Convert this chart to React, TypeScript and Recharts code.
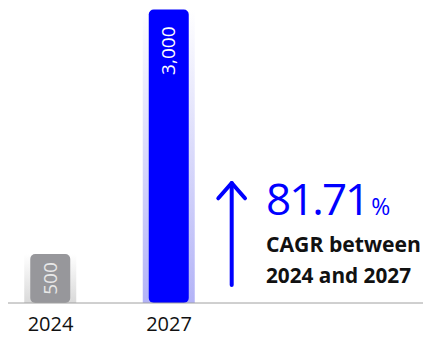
import { BarChart, Bar, XAxis, YAxis, Cell, LabelList } from "recharts";

const years = ["2024", "2027"];
const values = [500, 3000];
const barColors = ["#97979b", "#0000ff"];
const glowColors = ["#d9d9d9", "#b3b3f7"];
const labelColors = ["#e8e8e8", "#ffffff"];

const data = years.map((year, i) => ({ year, value: values[i] }));

// compound annual growth between first and last year
const span = Number(years[years.length - 1]) - Number(years[0]);
const cagr = (Math.pow(values[values.length - 1] / values[0], 1 / span) - 1) * 100;

const FONT = "'Open Sans', 'Noto Sans', sans-serif";

const GlowBar = (props: any) => {
  const { x, y, width, height, fill, index } = props;
  const id = `glow-${index}`;
  return (
    <g>
      <defs>
        <linearGradient id={id} x1="0" y1="0" x2="0" y2="1">
          <stop offset="0%" stopColor={glowColors[index]} stopOpacity={0} />
          <stop offset="100%" stopColor={glowColors[index]} stopOpacity={1} />
        </linearGradient>
      </defs>
      <rect x={x - 6} y={y} width={width + 12} height={height} fill={`url(#${id})`} />
      <rect x={x} y={y} width={width} height={height} rx={5} ry={5} fill={fill} />
    </g>
  );
};

const BarLabel = (props: any) => {
  const { x, y, width, height, value, index } = props;
  const cx = x + width / 2;
  const text = Number(value).toLocaleString("en-US");
  // short bars get the label centred, tall ones near the top
  const short = height < 90;
  const ay = short ? y + height / 2 : y + 17;
  return (
    <text
      x={cx}
      y={ay}
      dy="0.35em"
      transform={`rotate(-90, ${cx}, ${ay})`}
      textAnchor={short ? "middle" : "end"}
      fill={labelColors[index]}
      fontSize={19}
      fontFamily={FONT}
    >
      {text}
    </text>
  );
};

const YearTick = ({ x, y, payload }: any) => (
  <text x={x} y={y + 20} textAnchor="middle" fontSize={20} fontFamily={FONT} fill="#111">
    {payload.value}
  </text>
);

export default function App() {
  return (
    <div style={{ position: "relative", width: 423, height: 337, overflow: "hidden" }}>
      <style>{`body { margin: 0; }`}</style>
      <div style={{ position: "absolute", left: 8, top: 8 }}>
        <BarChart
          width={415}
          height={329}
          data={data}
          margin={{ top: 1.5, right: 0, bottom: 0, left: 0 }}
        >
          <XAxis
            dataKey="year"
            height={34}
            tickLine={false}
            axisLine={{ stroke: "#a0a0a0", strokeWidth: 1 }}
            tick={<YearTick />}
            padding={{ left: -16.75, right: 194.75 }}
          />
          <YAxis hide domain={[0, 3000]} />
          <Bar dataKey="value" barSize={40} shape={<GlowBar />} isAnimationActive={false}>
            {data.map((d, i) => (
              <Cell key={d.year} fill={barColors[i]} />
            ))}
            <LabelList dataKey="value" content={<BarLabel />} />
          </Bar>
        </BarChart>
        <svg
          width={415}
          height={329}
          style={{ position: "absolute", left: 0, top: 0, pointerEvents: "none" }}
        >
          <g stroke="#0000ff" strokeWidth={4} strokeLinecap="round" strokeLinejoin="round" fill="none">
            <line x1={223.7} y1={175} x2={223.7} y2={277} />
            <polyline points="210.3,190.3 223.7,175 237,190.3" />
          </g>
          <text x={258} y={207} fill="#0000ff" fontFamily={FONT} fontSize={44} letterSpacing={-2}>
            {cagr.toFixed(2)}
            <tspan fontSize={23} letterSpacing={0} dx={3}>%</tspan>
          </text>
          <text
            x={258}
            y={243.7}
            fill="#111"
            fontFamily={FONT}
            fontSize={21}
            fontWeight={700}
            textLength={155}
            lengthAdjust="spacingAndGlyphs"
          >
            CAGR between
          </text>
          <text
            x={258}
            y={275.3}
            fill="#111"
            fontFamily={FONT}
            fontSize={21}
            fontWeight={700}
            textLength={145}
            lengthAdjust="spacingAndGlyphs"
          >
            {`${years[0]} and ${years[years.length - 1]}`}
          </text>
        </svg>
      </div>
    </div>
  );
}
